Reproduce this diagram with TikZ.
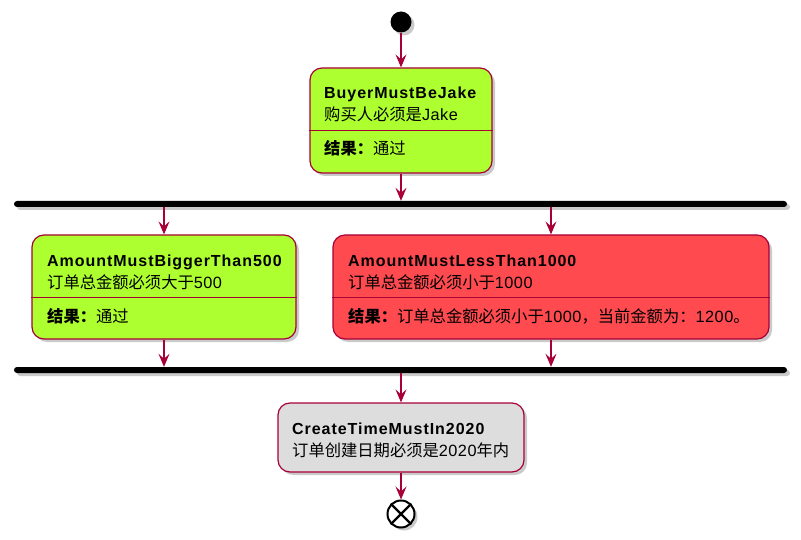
\documentclass[tikz,border=0pt]{standalone}
\usepackage{fontspec}
\setmainfont{Liberation Sans}
\newfontfamily\cjk{Noto Sans CJK SC}
\newfontfamily\ttlfont[LetterSpace=6]{Liberation Sans}
\newfontfamily\numfont[LetterSpace=3]{Liberation Sans}
\usetikzlibrary{arrows.meta,shadows}
\definecolor{border}{HTML}{A80036}
\definecolor{okgreen}{HTML}{ADFF2F}
\definecolor{failred}{HTML}{FF4A50}
\definecolor{plaingray}{HTML}{DDDDDD}
\tikzset{
  shad/.style={drop shadow={shadow xshift=3pt,shadow yshift=-3pt,opacity=0.35,fill=black!60}},
  actbox/.style={draw=border,line width=1.2pt,rounded corners=12pt,shad,inner sep=0pt},
  divider/.style={draw=border,line width=1pt},
  forkbar/.style={fill=black,draw=none,rounded corners=3pt,minimum height=6pt,inner sep=0pt,shad},
  arr/.style={draw=border,line width=1.2pt,-{Stealth[length=13pt,width=11pt,inset=5pt]}},
  ttl/.style={anchor=base west,inner sep=0pt,font=\fontsize{16}{18}\ttlfont\bfseries},
  txt/.style={anchor=base west,inner sep=0pt,font=\fontsize{16.3}{18}\numfont},
}
\begin{document}
\begin{tikzpicture}[x=1pt,y=-1pt]
\useasboundingbox (0,0) rectangle (801,540);
% start
\node[circle,fill=black,minimum size=21pt,inner sep=0pt,shad] (start) at (401,22) {};
% box 1
\node[actbox,fill=okgreen,minimum width=182pt,minimum height=105pt] (b1) at (401,120.5) {};
\draw[divider] (b1.west |- 0,131) -- (b1.east |- 0,131);
\node[ttl] (b1t) at (324,99) {BuyerMustBeJake};
\node[txt] (b1d) at (324,121) {{\cjk 购买人必须是}Jake};
\node[txt] (b1r) at (324,155) {{\cjk\bfseries 结果：}{\cjk 通过}};
% fork bar 1
\node[forkbar,minimum width=773pt] (bar1) at (400.5,204) {};
% box 2
\node[actbox,fill=okgreen,minimum width=264pt,minimum height=104pt] (b2) at (164,287) {};
\draw[divider] (b2.west |- 0,298) -- (b2.east |- 0,298);
\node[ttl] (b2t) at (47,267) {AmountMustBiggerThan500};
\node[txt] (b2d) at (47,289) {{\cjk 订单总金额必须大于}500};
\node[txt] (b2r) at (47,323) {{\cjk\bfseries 结果：}{\cjk 通过}};
% box 3
\node[actbox,fill=failred,minimum width=436pt,minimum height=104pt] (b3) at (551,287) {};
\draw[divider] (b3.west |- 0,298) -- (b3.east |- 0,298);
\node[ttl] (b3t) at (348,267) {AmountMustLessThan1000};
\node[txt] (b3d) at (348,289) {{\cjk 订单总金额必须小于}1000};
\node[txt] (b3r) at (348,323) {{\cjk\bfseries 结果：}{\cjk 订单总金额必须小于}1000{\cjk ，当前金额为：}1200{\cjk 。}};
% fork bar 2
\node[forkbar,minimum width=773pt] (bar2) at (400.5,370) {};
% box 4
\node[actbox,fill=plaingray,minimum width=246pt,minimum height=69pt] (b4) at (401,437.5) {};
\node[ttl] (b4t) at (292,434) {CreateTimeMustIn2020};
\node[txt] (b4d) at (292,456) {{\cjk 订单创建日期必须是}2020{\cjk 年内}};
% end
\node[circle,draw=black,fill=white,line width=2pt,minimum size=27pt,inner sep=0pt,shad] (stop) at (401,514) {};
\draw[black,line width=2.2pt] (stop.45) -- (stop.225) (stop.135) -- (stop.315);
% connectors
\draw[arr] (start) -- (b1.north);
\draw[arr] (b1.south) -- (b1.south |- bar1.north);
\draw[arr] (b2.north |- bar1.south) -- (b2.north);
\draw[arr] (b3.north |- bar1.south) -- (b3.north);
\draw[arr] (b2.south) -- (b2.south |- bar2.north);
\draw[arr] (b3.south) -- (b3.south |- bar2.north);
\draw[arr] (b4.north |- bar2.south) -- (b4.north);
\draw[arr] (b4.south) -- (stop.north);
\end{tikzpicture}
\end{document}
